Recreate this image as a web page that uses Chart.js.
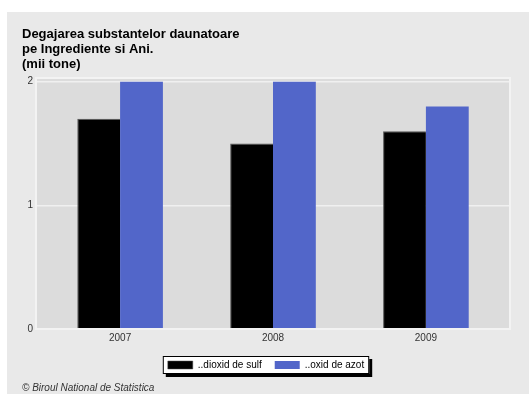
<!DOCTYPE html>
<html>
<head>
<meta charset="utf-8">
<script src="https://cdn.jsdelivr.net/npm/chart.js@4/dist/chart.umd.min.js"></script>
<style>
  html, body { margin: 0; padding: 0; background: #ffffff; }
  canvas { display: block; }
</style>
</head>
<body>
<canvas id="myChart" width="529" height="394"></canvas>
<script>
const years = ['2007', '2008', '2009'];
const sulfValues = [1.7, 1.5, 1.6];
const azotValues = [2.0, 2.0, 1.8];
const seriesNames = ['..dioxid de sulf', '..oxid de azot'];
const yTicks = [0, 1, 2];

const FONT = "'Liberation Sans', Arial, sans-serif";

// фон панели и области графика
const panelPlugin = {
    id: 'panel',
    beforeDraw(chart) {
        const ctx = chart.ctx;
        ctx.save();
        ctx.fillStyle = '#ffffff';
        ctx.fillRect(0, 0, chart.width, chart.height);
        ctx.fillStyle = '#e9e9e9';
        ctx.fillRect(7, 12, chart.width - 7, chart.height - 12);
        const a = chart.chartArea;
        ctx.fillStyle = '#dcdcdc';
        ctx.fillRect(a.left, a.top, a.right - a.left, a.bottom - a.top);
        ctx.restore();
    },
    afterDatasetsDraw(chart) {
        const a = chart.chartArea;
        const ctx = chart.ctx;
        ctx.save();
        ctx.strokeStyle = '#f3f3f3';
        ctx.lineWidth = 2;
        ctx.strokeRect(a.left, a.top, a.right - a.left, a.bottom - a.top);
        ctx.restore();
    }
};

// рамка легенды с тенью
const legendFramePlugin = {
    id: 'legendFrame',
    beforeDraw(chart) {
        const boxes = chart.legend.legendHitBoxes;
        if (!boxes || !boxes.length) return;
        let left = Math.min(...boxes.map(b => b.left)) - 5;
        let right = Math.max(...boxes.map(b => b.left + b.width)) + 5;
        let top = Math.min(...boxes.map(b => b.top)) - 4;
        let bottom = Math.max(...boxes.map(b => b.top + b.height)) + 4;
        const ctx = chart.ctx;
        ctx.save();
        ctx.fillStyle = '#000000';
        ctx.fillRect(left + 3, top + 3, right - left, bottom - top);
        ctx.fillStyle = '#ffffff';
        ctx.fillRect(left, top, right - left, bottom - top);
        ctx.strokeStyle = '#000000';
        ctx.lineWidth = 1;
        ctx.strokeRect(left + 0.5, top + 0.5, right - left - 1, bottom - top - 1);
        ctx.restore();
    }
};

const data = {
    datasets: [
        {
            label: seriesNames[0],
            data: years.map((_, i) => ({ x: i, y: sulfValues[i] })),
            backgroundColor: '#000000',
            borderColor: '#555555',
            borderWidth: { left: 1, top: 1, right: 0, bottom: 0 }
        },
        {
            label: seriesNames[1],
            data: years.map((_, i) => ({ x: i, y: azotValues[i] })),
            backgroundColor: '#5266c9',
            borderWidth: 0
        }
    ]
};

new Chart(document.getElementById('myChart'), {
    type: 'bar',
    data: data,
    options: {
        responsive: false,
        animation: false,
        devicePixelRatio: 1,
        layout: { padding: { left: 22, right: 19, top: 0, bottom: 0 } },
        datasets: {
            bar: { barPercentage: 1, categoryPercentage: 0.56 }
        },
        scales: {
            x: {
                type: 'linear',
                offset: false,
                min: -0.55,
                max: 2.55,
                afterBuildTicks: scale => { scale.ticks = years.map((_, i) => ({ value: i })); },
                ticks: {
                    callback: v => years[v],
                    color: '#333333',
                    font: { family: FONT, size: 10 },
                    padding: 3
                },
                grid: { display: false, drawTicks: false },
                border: { display: false }
            },
            y: {
                min: 0,
                max: 2.03,
                afterBuildTicks: scale => { scale.ticks = yTicks.map(v => ({ value: v })); },
                afterFit: scale => { scale.width = 14; },
                ticks: {
                    color: '#333333',
                    font: { family: FONT, size: 10 },
                    padding: 3
                },
                grid: { color: '#f0f0f0', lineWidth: 1.5, drawTicks: false },
                border: { display: false }
            }
        },
        plugins: {
            title: {
                display: true,
                align: 'start',
                text: ['Degajarea substantelor daunatoare', 'pe Ingrediente si Ani.', '(mii tone)'],
                color: '#000000',
                font: { family: FONT, size: 13, weight: 'bold', lineHeight: 1.154 },
                padding: { top: 27, bottom: 6 }
            },
            subtitle: {
                display: true,
                position: 'bottom',
                align: 'start',
                text: '© Biroul National de Statistica',
                color: '#333333',
                font: { family: FONT, size: 10, style: 'italic' },
                padding: { top: 2, bottom: 0 }
            },
            legend: {
                position: 'bottom',
                labels: {
                    boxWidth: 25,
                    boxHeight: 8,
                    color: '#000000',
                    font: { family: FONT, size: 10 },
                    padding: 13
                }
            },
            tooltip: { enabled: false }
        }
    },
    plugins: [panelPlugin, legendFramePlugin]
});
</script>
</body>
</html>
